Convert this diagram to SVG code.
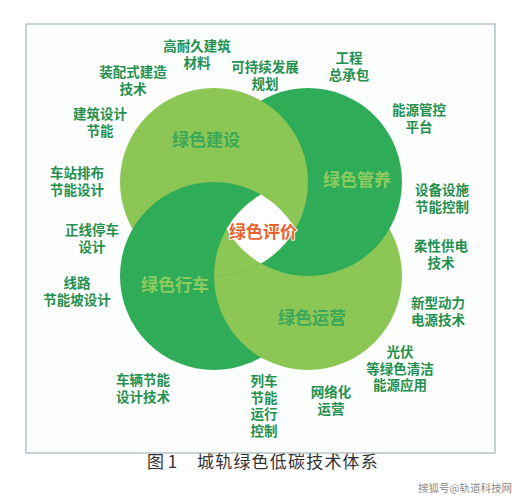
<svg xmlns="http://www.w3.org/2000/svg" width="523" height="500" viewBox="0 0 523 500">
<defs>
<style>
.lbl{font-family:"Noto Sans CJK SC","Noto Sans",sans-serif;font-weight:700;font-size:13.5px;fill:#25904e;text-anchor:middle}
.cl{font-family:"Noto Sans CJK SC","Noto Sans",sans-serif;font-weight:700;font-size:17px;text-anchor:middle}
.onlight{fill:#3aa85a}
.ondark{fill:#8fcb5e}
.light{fill:#8cc655}
.dark{fill:#2eac57}
</style>
<clipPath id="clipA"><circle cx="214" cy="182" r="94"/></clipPath>
<clipPath id="clipD"><circle cx="214" cy="276" r="94"/></clipPath>
</defs>
<rect x="0" y="0" width="523" height="500" fill="#ffffff"/>
<rect x="26" y="24" width="469" height="429" fill="#fdfefe" stroke="#b6c4c7" stroke-width="1.5"/>
<g id="rings">
<circle class="dark" cx="214" cy="276" r="94"/>
<circle class="light" cx="308" cy="276" r="94"/>
<circle class="dark" cx="308" cy="182" r="94"/>
<circle class="light" cx="214" cy="182" r="94"/>
<g clip-path="url(#clipA)"><circle class="dark" cx="214" cy="276" r="94"/></g>
<g clip-path="url(#clipA)"><g clip-path="url(#clipD)"><circle class="light" cx="308" cy="276" r="94"/></g></g>
<path d="M261,194.6 A94,94 0 0 1 295.4,229 A94,94 0 0 1 261,263.4 A94,94 0 0 1 226.6,229 A94,94 0 0 1 261,194.6 Z" fill="#ffffff"/>
</g>
<g id="connectors"/>
<g id="node-jianshe"><text class="cl onlight" x="206" y="146">绿色建设</text></g>
<g id="node-guanyang"><text class="cl ondark" x="357" y="186">绿色管养</text></g>
<g id="node-xingche"><text class="cl ondark" x="175" y="291">绿色行车</text></g>
<g id="node-yunying"><text class="cl onlight" x="312" y="324">绿色运营</text></g>
<g id="node-pingjia"><text class="cl" x="263" y="238" fill="#e8622b" stroke="#ffffff" stroke-width="1.5" paint-order="stroke">绿色评价</text></g>
<g id="node-l1"><text class="lbl" x="197" y="51">高耐久建筑</text><text class="lbl" x="197" y="67.5">材料</text></g>
<g id="node-l2"><text class="lbl" x="133" y="77">装配式建造</text><text class="lbl" x="133" y="93.5">技术</text></g>
<g id="node-l3"><text class="lbl" x="265" y="72">可持续发展</text><text class="lbl" x="265" y="88.5">规划</text></g>
<g id="node-l4"><text class="lbl" x="349" y="63">工程</text><text class="lbl" x="349" y="79.5">总承包</text></g>
<g id="node-l5"><text class="lbl" x="100" y="119">建筑设计</text><text class="lbl" x="100" y="135.5">节能</text></g>
<g id="node-l6"><text class="lbl" x="419" y="115">能源管控</text><text class="lbl" x="419" y="131.5">平台</text></g>
<g id="node-l7"><text class="lbl" x="77" y="178">车站排布</text><text class="lbl" x="77" y="194.5">节能设计</text></g>
<g id="node-l8"><text class="lbl" x="442" y="195">设备设施</text><text class="lbl" x="442" y="211.5">节能控制</text></g>
<g id="node-l9"><text class="lbl" x="92" y="235">正线停车</text><text class="lbl" x="92" y="251.5">设计</text></g>
<g id="node-l10"><text class="lbl" x="441" y="251">柔性供电</text><text class="lbl" x="441" y="267.5">技术</text></g>
<g id="node-l11"><text class="lbl" x="77" y="288">线路</text><text class="lbl" x="77" y="304.5">节能坡设计</text></g>
<g id="node-l12"><text class="lbl" x="438" y="308">新型动力</text><text class="lbl" x="438" y="324.5">电源技术</text></g>
<g id="node-l13"><text class="lbl" x="400" y="357">光伏</text><text class="lbl" x="400" y="373.5">等绿色清洁</text><text class="lbl" x="400" y="390">能源应用</text></g>
<g id="node-l14"><text class="lbl" x="143" y="385">车辆节能</text><text class="lbl" x="143" y="401.5">设计技术</text></g>
<g id="node-l15"><text class="lbl" x="264" y="386">列车</text><text class="lbl" x="264" y="402.5">节能</text><text class="lbl" x="264" y="419">运行</text><text class="lbl" x="264" y="435.5">控制</text></g>
<g id="node-l16"><text class="lbl" x="331" y="397">网络化</text><text class="lbl" x="331" y="413.5">运营</text></g>
<text x="147" y="468" font-family="'Noto Sans CJK SC',sans-serif" font-size="17" fill="#333333">图 1</text>
<text x="197" y="468" font-family="'Noto Sans CJK SC',sans-serif" font-size="17" fill="#333333" letter-spacing="1.2">城轨绿色低碳技术体系</text>
<text x="418" y="492" font-family="'Noto Sans CJK SC',sans-serif" font-size="10.5" fill="#8a8a8a">搜狐号@轨道科技网</text>
</svg>
